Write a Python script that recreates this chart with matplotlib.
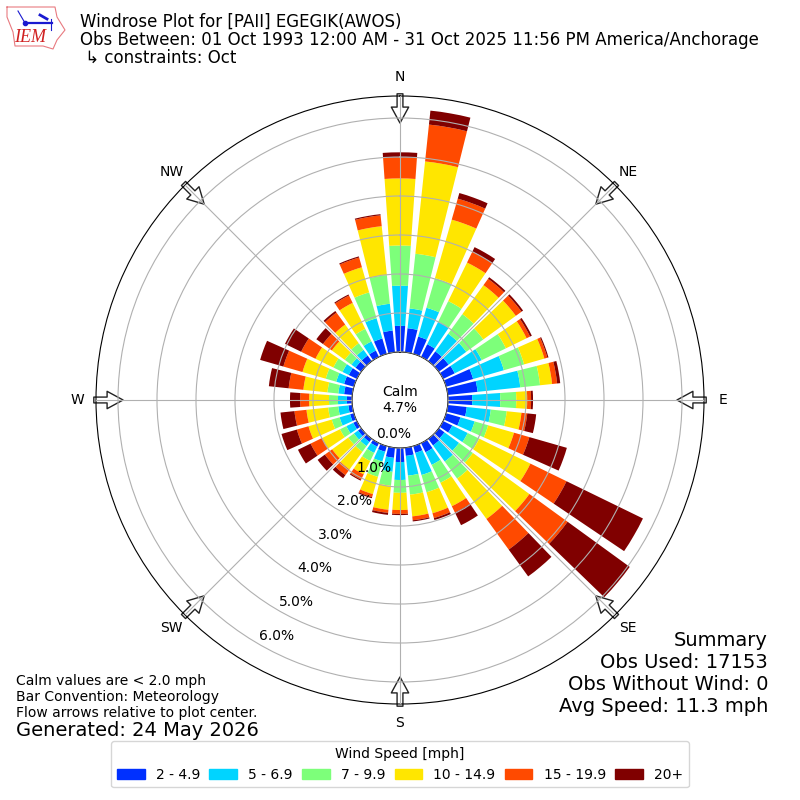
import matplotlib
matplotlib.use('Agg')
import matplotlib.pyplot as plt
from matplotlib.patches import Patch
import numpy as np

# percent of obs per direction bin, from 0 deg going clockwise every 10 deg
directions = np.arange(0, 360, 10)
speed_2_5 = [.67, .62, .46, .36, .31, .31, .33, .72, .77, .62, .49, .38, .26, .18, .21, .26, .18, .21,
             .36, .26, .15, .10, .10, .10, .10, .10, .10, .13, .21, .26, .23, .18, .18, .18, .41, .56]
speed_5_7 = [1.03, .51, .77, .64, .56, .56, .77, .82, 1.10, .72, .62, .38, .44, .46, .51, .36, .59, .51,
             .46, .36, .26, .18, .13, .13, .20, .28, .26, .23, .15, .21, .18, .13, .18, .26, .54, .69]
speed_7_10 = [1.03, 1.41, .79, .59, .62, .54, .69, .54, .51, .41, .41, .36, .33, .44, .54, .51, .46, .49,
              .33, .36, .41, .23, .18, .18, .18, .21, .26, .23, .28, .28, .26, .21, .21, .36, .69, .74]
speed_10_15 = [1.72, 2.38, 1.56, 1.10, .92, 1.03, .59, .54, .31, .28, .38, .69, 1.46, 1.79, 1.28, .67, .56, .56,
               .44, .62, .46, .38, .56, .51, .51, .62, .56, .51, .62, .62, .51, .41, .59, .74, .67, 1.26]
speed_15_20 = [.54, .95, .56, .31, .20, .18, .10, .08, .13, .10, .15, .41, 1.03, 1.21, .97, .18, .13, .10,
               .10, .08, .08, .15, .18, .23, .33, .31, .31, .23, .38, .51, .41, .28, .38, .21, .26, .28]
speed_20 = [.13, .36, .15, .13, .05, .05, .05, .03, .08, .05, .23, 1.00, 2.18, 1.97, .85, .36, .05, .03,
            .03, .05, .03, .03, .10, .23, .36, .41, .36, .26, .51, .62, .46, .21, .05, .03, .03, .03]
speed_bins = [speed_2_5, speed_5_7, speed_7_10, speed_10_15, speed_15_20, speed_20]
speed_labels = ['2 - 4.9', '5 - 6.9', '7 - 9.9', '10 - 14.9', '15 - 19.9', '20+']
colors = ['#0030ff', '#00d4ff', '#7dff7a', '#ffe600', '#ff4a00', '#800000']

compass = ['N', 'NE', 'E', 'SE', 'S', 'SW', 'W', 'NW']
compass_deg = np.arange(0, 360, 45)
ring_values = [0, 1, 2, 3, 4, 5, 6]
ring_labels = ['0.0%', '1.0%', '2.0%', '3.0%', '4.0%', '5.0%', '6.0%']
ring_label_xy = [(394, 434), (374, 468), (355, 501), (335, 535), (315, 568), (296, 602), (277, 636)]

fig = plt.figure(figsize=(8, 8), dpi=100)
ax = fig.add_axes([0.12, 0.12, 0.76, 0.76], projection='polar')
ax.set_theta_zero_location('N')
ax.set_theta_direction(-1)

bottom = np.zeros(36)
for vals, color in zip(speed_bins, colors):
    ax.bar(np.deg2rad(directions), vals, width=np.deg2rad(8), bottom=bottom, color=color, lw=0)
    bottom = bottom + np.array(vals)

ax.set_rorigin(-1.231)
ax.set_rmin(0)
ax.set_rmax(6.564)
ax.set_axisbelow(False)
ax.set_rticks(ring_values)
ax.set_yticklabels([])
ax.set_thetagrids(compass_deg, compass, fontsize=10)
ax.tick_params(axis='x', pad=3)
ax.grid(True, color='#b0b0b0', lw=0.8)

# arrows on the rim, pointing to the center
for deg in compass_deg:
    ax.annotate('', xy=(np.deg2rad(deg), 5.87), xytext=(np.deg2rad(deg), 6.62),
                arrowprops=dict(facecolor='white', edgecolor='#222222', lw=1, width=4.2,
                                headwidth=12.5, headlength=11.5, shrink=0),
                annotation_clip=False, zorder=1)

ax.text(0.5, 0.5, 'Calm\n4.7%', transform=ax.transAxes, ha='center', va='center', fontsize=10)
for lab, (x, y) in zip(ring_labels, ring_label_xy):
    fig.text(x / 800, 1 - y / 800, lab, ha='center', va='center', fontsize=10)

fig.text(0.1, 0.9835,
         'Windrose Plot for [PAII] EGEGIK(AWOS)\n'
         'Obs Between: 01 Oct 1993 12:00 AM - 31 Oct 2025 11:56 PM America/Anchorage\n'
         ' \u21b3 constraints: Oct', ha='left', va='top', fontsize=12, linespacing=1.0)
fig.text(0.96, 0.1055, 'Summary\nObs Used: 17153\nObs Without Wind: 0\nAvg Speed: 11.3 mph',
         ha='right', va='bottom', fontsize=14, linespacing=1.19)
fig.text(0.02, 0.1, 'Calm values are < 2.0 mph\nBar Convention: Meteorology\nFlow arrows relative to plot center.',
         ha='left', va='bottom', fontsize=10, linespacing=1.17)
fig.text(0.02, 0.0985, 'Generated: 24 May 2026', ha='left', va='top', fontsize=14)

handles = [Patch(color=c, label=l) for c, l in zip(colors, speed_labels)]
fig.legend(handles=handles, title='Wind Speed [mph]', ncol=6, loc='lower center',
           bbox_to_anchor=(0.5, 0.007), fontsize=10, title_fontsize=10, columnspacing=0.66)

# small IEM logo
logo = fig.add_axes([0, 1 - 55 / 800, 0.1, 55 / 800])
logo.set_xlim(0, 80)
logo.set_ylim(55, 0)
logo.axis('off')
logo.plot([7, 55, 57, 65, 57, 53, 43, 15, 13, 7, 7], [7, 7, 17, 30, 40, 49, 46, 46, 32, 17, 7], color='#e87a80', lw=0.8)
logo.plot([25, 52], [23, 23], color='#1a1ad0', lw=1.6)
logo.plot([18, 25], [11, 23], color='#1a1ad0', lw=0.8)
logo.plot([40, 47], [15, 19], color='#1a1ad0', lw=2)
logo.plot([51, 51], [19, 30], color='#1a1ad0', lw=0.8)
logo.plot([25], [23], 'o', color='#1a1ad0', ms=3)
logo.text(30, 38, 'IEM', color='#d02020', family='Liberation Serif', style='italic', fontsize=13,
          ha='center', va='center')

fig.savefig('out.png', dpi=100)
